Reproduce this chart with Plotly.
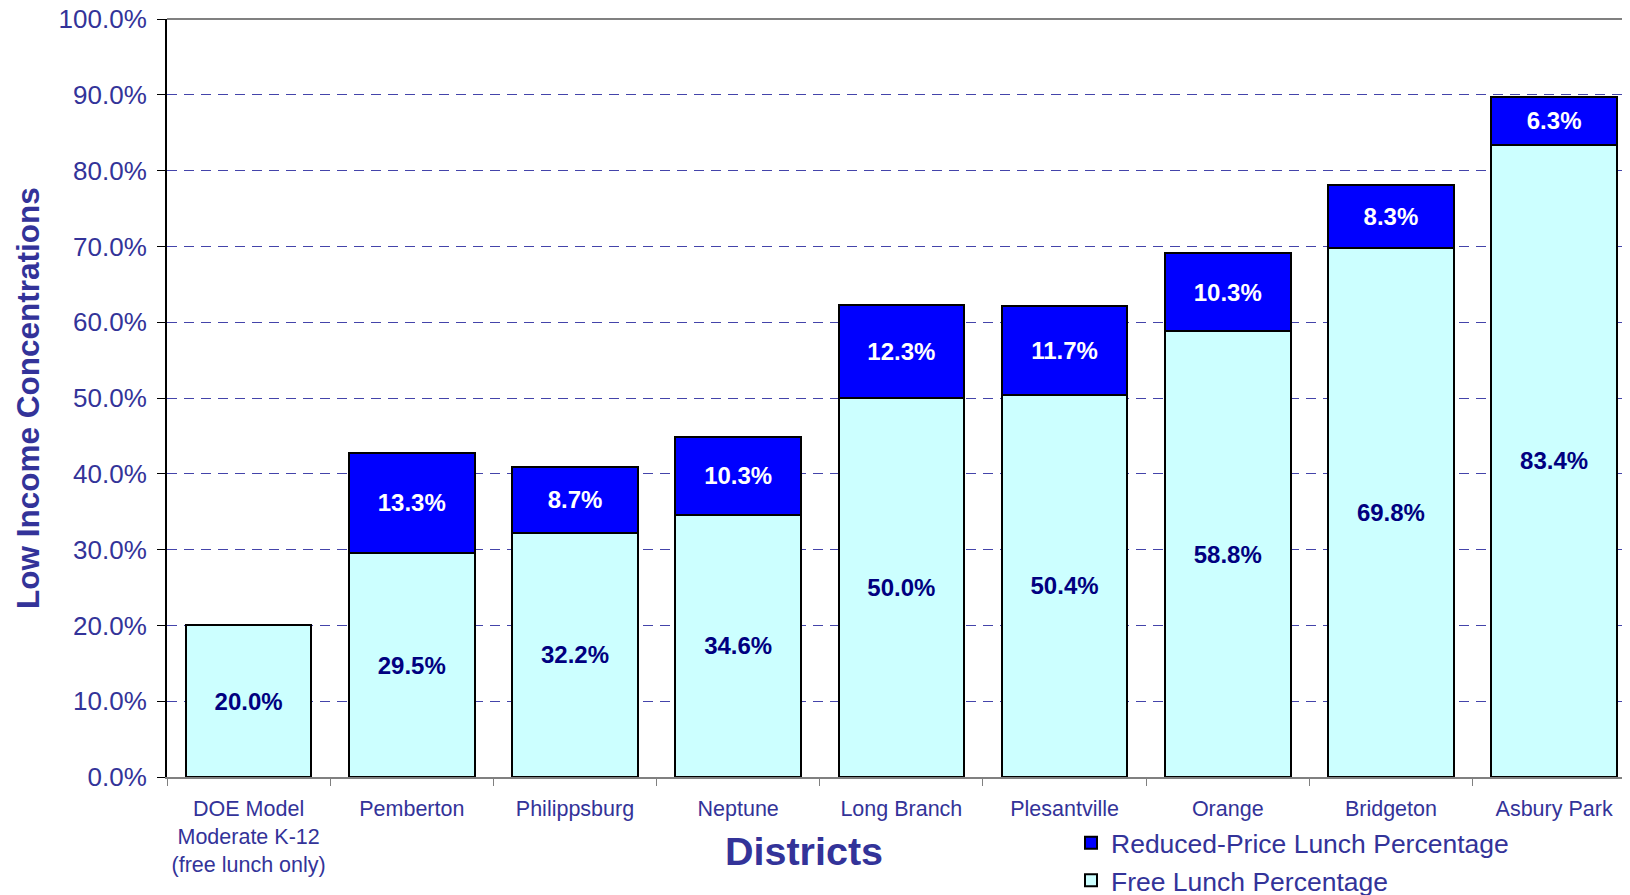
import plotly.graph_objects as go

categories = ["DOE Model<br>Moderate K-12<br>(free lunch only)", "Pemberton", "Philippsburg",
              "Neptune", "Long Branch", "Plesantville", "Orange", "Bridgeton", "Asbury Park"]
free_lunch = [20.0, 29.5, 32.2, 34.6, 50.0, 50.4, 58.8, 69.8, 83.4]
reduced_lunch = [None, 13.3, 8.7, 10.3, 12.3, 11.7, 10.3, 8.3, 6.3]
y_ticks = [0, 10, 20, 30, 40, 50, 60, 70, 80, 90, 100]

TXT = "#333399"
FONT = "Liberation Sans, Arial, sans-serif"

# page body has an 8px default margin
W, H = 1622, 900
L, T = 159, 11
PH = 758
B = H - T - PH
PW = W - L
BOTTOM = T + PH  # plot bottom in figure pixels

fig = go.Figure()
fig.add_trace(go.Bar(
    x=categories, y=free_lunch, name="Free Lunch Percentage",
    marker=dict(color="#CCFFFF", line=dict(color="black", width=2)),
    text=[f"{v:.1f}%" for v in free_lunch], textposition="inside",
    insidetextanchor="middle", textangle=0,
    textfont=dict(family=FONT, size=24, color="#000080", weight="bold"),
))
fig.add_trace(go.Bar(
    x=categories, y=reduced_lunch, name="Reduced-Price Lunch Percentage",
    marker=dict(color="#0000FF", line=dict(color="black", width=2)),
    text=[f"{v:.1f}%" if v is not None else "" for v in reduced_lunch], textposition="inside",
    insidetextanchor="middle", textangle=0,
    textfont=dict(family=FONT, size=24, color="white", weight="bold"),
))

fig.update_layout(
    barmode="stack", bargap=0.23,
    width=W, height=H,
    margin=dict(l=L, r=0, t=T, b=B, autoexpand=False),
    plot_bgcolor="white", paper_bgcolor="white",
    font=dict(family=FONT, color=TXT),
    showlegend=True,
    legend=dict(
        traceorder="reversed", orientation="v",
        x=(1063 - L) / PW, xanchor="left", y=-(811 - BOTTOM) / PH, yanchor="top",
        font=dict(family=FONT, size=26.5, color=TXT),
        bgcolor="rgba(0,0,0,0)",
        tracegroupgap=0,
    ),
    xaxis=dict(
        range=[-0.5, 8.465], tickson="boundaries", ticks="outside", ticklen=7,
        tickcolor="#808080", showline=True, linecolor="#808080", linewidth=2,
        tickfont=dict(family=FONT, size=21.5, color=TXT), showgrid=False,
        ticklabelstandoff=11, automargin=False,
    ),
    yaxis=dict(
        range=[0, 100], tickvals=y_ticks, ticktext=[f"{v:.1f}%" for v in y_ticks],
        ticks="outside", ticklen=8, tickcolor="black",
        showline=True, linecolor="black", linewidth=2,
        tickfont=dict(family=FONT, size=26, color=TXT),
        ticklabelstandoff=5, ticklabeloverflow="allow", automargin=False,
        showgrid=True, gridcolor="#4444AA", gridwidth=1, griddash="10px,7px",
        zeroline=False,
    ),
    annotations=[
        dict(text="<b>Low Income Concentrations</b>", textangle=-90, xref="paper", yref="paper",
             x=(20 - L) / PW, y=0.5, xanchor="center", yanchor="middle", showarrow=False,
             font=dict(family=FONT, size=31.5, color=TXT)),
        dict(text="<b>Districts</b>", xref="paper", yref="paper",
             x=(796 - L) / PW, y=-(843 - BOTTOM) / PH, xanchor="center", yanchor="middle",
             showarrow=False, font=dict(family=FONT, size=39.5, color=TXT)),
    ],
    shapes=[dict(type="line", xref="paper", yref="paper", x0=0, x1=1, y0=1, y1=1,
                 line=dict(color="#808080", width=2))],
)

fig.write_html("out.html")
